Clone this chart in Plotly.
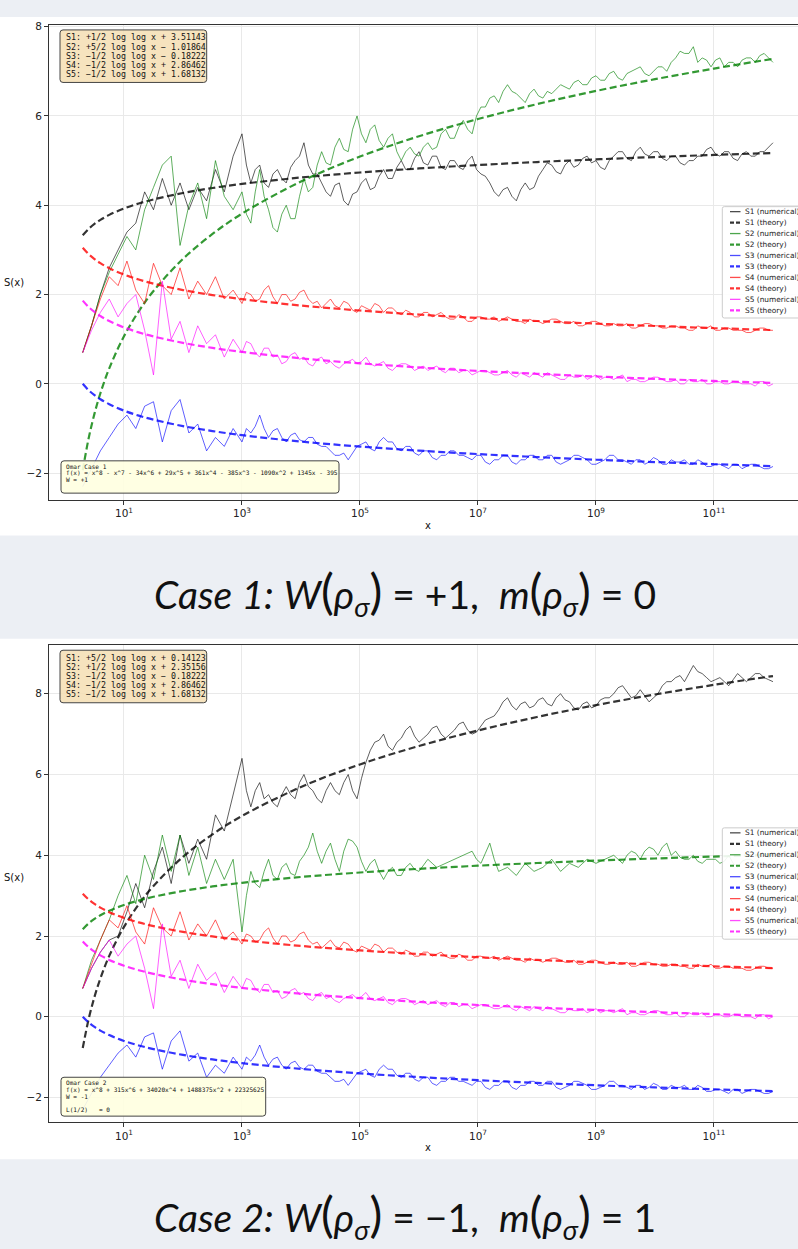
import plotly.graph_objects as go

W, H = 798, 1249

# ---------------- data ----------------
# coarse sampling grid (log10 x) of the numerical curves
L_num = [round(0.30 + 0.15 * i, 3) for i in range(79)]
# extra sample points (log10 x) between the coarse ones, for log10 x >= 3
L_mid = [round(3.075 + 0.15 * j, 3) for j in range(60)]
# sampling grid (log10 x) of the theory curves
L_th = [0.30103, 0.4, 0.5, 0.6, 0.75, 1, 1.25, 1.5, 2, 2.5, 3, 4, 5, 6, 7, 8, 9, 10, 11, 12]

series_names = ["S1", "S2", "S3", "S4", "S5"]

# theory curves (values of  a*log log x + b  read at L_th)
c1_S1_th = [3.328, 3.470, 3.582, 3.673, 3.785, 3.928, 4.040, 4.131, 4.275, 4.387,
            4.478, 4.622, 4.733, 4.824, 4.901, 4.968, 5.027, 5.080, 5.127, 5.171]
c1_S2_th = [-1.935, -1.224, -0.666, -0.211, 0.347, 1.066, 1.624, 2.080, 2.799, 3.357,
            3.813, 4.532, 5.090, 5.546, 5.931, 6.265, 6.560, 6.823, 7.061, 7.279]
S3_th = [0.001, -0.141, -0.253, -0.344, -0.455, -0.599, -0.711, -0.802, -0.946, -1.057,
         -1.149, -1.292, -1.404, -1.495, -1.572, -1.639, -1.698, -1.751, -1.798, -1.842]
S4_th = [3.048, 2.906, 2.794, 2.703, 2.591, 2.448, 2.336, 2.245, 2.101, 1.989,
         1.898, 1.754, 1.643, 1.552, 1.475, 1.408, 1.349, 1.296, 1.249, 1.205]
S5_th = [1.865, 1.722, 1.611, 1.520, 1.408, 1.264, 1.153, 1.062, 0.918, 0.806,
         0.715, 0.571, 0.460, 0.368, 0.291, 0.225, 0.166, 0.113, 0.065, 0.022]
c2_S1_th = [-0.775, -0.064, 0.493, 0.949, 1.507, 2.226, 2.784, 3.240, 3.959, 4.517,
            4.973, 5.692, 6.250, 6.706, 7.091, 7.425, 7.719, 7.983, 8.221, 8.439]
c2_S2_th = [2.168, 2.310, 2.422, 2.513, 2.625, 2.769, 2.880, 2.971, 3.115, 3.227,
            3.318, 3.462, 3.573, 3.664, 3.741, 3.808, 3.867, 3.920, 3.968, 4.011]

# numerical curves at L_num
c1_S1_num = [0.7, 1.3, 2.0, 2.6, 3.0, 3.4, 3.6, 4.3, 3.9, 4.6, 4.0, 4.5,
             3.9, 4.4, 4.1, 4.8, 4.3, 5.1, 5.6, 4.5, 4.9, 4.4, 4.8, 4.5,
             5.0, 5.4, 4.7, 4.5, 4.2, 4.5, 4.0, 4.3, 4.6, 4.4, 4.8, 4.6,
             5.0, 4.8, 5.2, 4.9, 5.1, 4.8, 5.0, 4.8, 5.1, 4.7, 4.5, 4.2,
             4.4, 4.1, 4.5, 4.4, 4.8, 4.9, 4.7, 5.0, 4.9, 5.1, 5.0, 4.8,
             5.1, 5.2, 5.0, 5.3, 5.1, 5.2, 5.0, 5.1, 4.9, 5.0, 5.1, 5.3,
             5.1, 5.2, 5.0, 5.2, 5.1, 5.2, 5.4]
c1_S2_num = [0.7, 1.3, 2.0, 2.5, 2.9, 3.3, 3.0, 3.9, 4.4, 4.9, 5.1, 3.1,
             4.0, 4.5, 3.7, 5.0, 4.2, 3.9, 4.3, 3.6, 4.8, 3.9, 3.4, 4.0,
             3.7, 4.6, 4.4, 5.2, 4.9, 5.5, 5.2, 6.0, 5.4, 5.8, 5.3, 5.6,
             5.0, 5.3, 5.1, 5.4, 5.3, 5.7, 5.5, 5.9, 5.6, 6.2, 6.4, 6.3,
             6.7, 6.5, 6.3, 6.6, 6.4, 6.5, 6.7, 6.6, 6.8, 6.7, 6.9, 6.8,
             7.0, 6.8, 7.0, 7.1, 6.9, 7.1, 7.0, 7.3, 7.4, 7.55, 7.3, 7.1,
             7.3, 7.2, 7.1, 7.3, 7.2, 7.4, 7.2]
S3_num = [-2.3, -1.9, -1.5, -1.2, -0.9, -0.7, -1.0, -0.5, -0.4, -1.3, -0.6, -0.35,
          -1.1, -0.9, -1.5, -1.2, -1.4, -1.0, -1.3, -1.1, -0.7, -1.2, -1.0, -1.3,
          -1.1, -1.3, -1.2, -1.4, -1.5, -1.6, -1.7, -1.4, -1.3, -1.5, -1.2, -1.3,
          -1.5, -1.4, -1.6, -1.5, -1.7, -1.6, -1.5, -1.6, -1.7, -1.6, -1.8, -1.7,
          -1.6, -1.8, -1.7, -1.6, -1.7, -1.6, -1.8, -1.7, -1.6, -1.7, -1.8, -1.7,
          -1.6, -1.7, -1.8, -1.7, -1.75, -1.7, -1.8, -1.75, -1.7, -1.8, -1.75, -1.85,
          -1.8, -1.9, -1.8, -1.85, -1.8, -1.9, -1.85]
S4_num = [0.7, 1.3, 1.9, 2.4, 2.2, 2.75, 2.1, 1.8, 2.7, 2.2, 2.0, 2.6,
          1.9, 2.3, 2.0, 2.4, 1.9, 2.1, 1.8, 2.0, 1.9, 2.2, 1.8, 2.0,
          1.9, 2.1, 1.8, 1.7, 1.9, 1.7, 1.8, 1.6, 1.7, 1.8, 1.6, 1.7,
          1.55, 1.6, 1.5, 1.6, 1.55, 1.5, 1.45, 1.5, 1.4, 1.5, 1.45, 1.4,
          1.5, 1.4, 1.35, 1.4, 1.35, 1.45, 1.4, 1.35, 1.3, 1.35, 1.4, 1.3,
          1.35, 1.3, 1.25, 1.3, 1.35, 1.3, 1.25, 1.3, 1.25, 1.2, 1.25, 1.3,
          1.2, 1.25, 1.2, 1.15, 1.2, 1.25, 1.2]
S5_num = [0.7, 1.2, 1.6, 1.9, 1.5, 1.8, 2.0, 1.2, 0.2, 2.3, 1.0, 1.4,
          0.7, 1.3, 0.9, 1.1, 0.6, 1.0, 0.7, 0.9, 0.6, 0.8, 0.65, 0.5,
          0.7, 0.6, 0.4, 0.6, 0.5, 0.35, 0.5, 0.45, 0.6, 0.4, 0.5, 0.3,
          0.45, 0.4, 0.35, 0.3, 0.4, 0.25, 0.35, 0.3, 0.2, 0.3, 0.25, 0.2,
          0.3, 0.15, 0.2, 0.25, 0.15, 0.2, 0.1, 0.2, 0.15, 0.1, 0.2, 0.15,
          0.1, 0.2, 0.1, 0.05, 0.1, 0.15, 0.05, 0.1, 0.0, 0.05, 0.1, 0.0,
          0.05, 0.0, 0.05, 0.0, -0.05, 0.05, 0.0]
c2_S1_num = [0.7, 1.2, 1.6, 1.9, 2.0, 2.6, 3.3, 2.7, 3.6, 4.2, 3.3, 4.5,
             3.8, 4.4, 3.9, 5.0, 4.6, 5.5, 6.4, 5.2, 5.8, 5.5, 5.2, 5.7,
             5.4, 6.0, 5.6, 5.3, 5.8, 5.5, 6.0, 5.4, 6.3, 6.8, 7.0, 6.6,
             6.9, 7.2, 6.8, 7.0, 7.2, 6.9, 7.1, 7.3, 7.0, 7.2, 7.4, 7.6,
             7.9, 7.6, 7.8, 7.7, 7.9, 7.7, 8.0, 7.8, 7.6, 7.8, 7.7, 7.9,
             8.0, 8.2, 7.9, 8.1, 7.8, 8.0, 8.3, 8.4, 8.3, 8.7, 8.5, 8.3,
             8.4, 8.2, 8.5, 8.3, 8.5, 8.4, 8.3]
c2_S2_num = [0.7, 1.4, 1.9, 2.4, 3.0, 3.5, 2.8, 4.0, 3.4, 4.5, 3.6, 4.5,
             3.5, 4.2, 3.3, 3.9, 3.4, 3.9, 2.1, 3.6, 3.2, 3.9, 3.4, 3.8,
             3.5, 4.0, 4.55, 3.8, 4.3, 3.6, 4.4, 4.2, 3.6, 3.9, 3.4, 3.7,
             3.5, 3.8, 3.6, 3.9, 3.7, 3.8, 3.9, 4.0, 4.1, 3.8, 4.3, 3.6,
             3.7, 3.5, 3.8, 3.6, 3.7, 3.9, 3.6, 3.8, 3.7, 3.9, 3.8, 3.9,
             4.0, 3.8, 4.1, 3.9, 4.2, 4.0, 4.3, 4.1, 3.9, 4.0, 3.8, 3.9,
             3.8, 4.0, 3.7, 3.9, 3.8, 4.0, 3.9]

# numerical curves at L_mid
c1_S1_mid = [4.9, 4.8, 4.5, 4.7, 4.6, 4.85, 5.1, 4.9, 4.7, 4.3, 4.45, 4.1, 4.25, 4.5, 4.35,
             4.65, 4.6, 4.85, 4.8, 5.05, 4.95, 5.1, 4.85, 5.0, 4.85, 5.0, 4.8, 4.65, 4.3, 4.35,
             4.2, 4.35, 4.35, 4.65, 4.95, 4.75, 4.9, 4.85, 5.05, 4.95, 4.85, 5.0, 5.2, 5.05, 5.2,
             5.15, 5.2, 5.05, 5.1, 4.95, 5.0, 5.1, 5.25, 5.15, 5.2, 5.05, 5.15, 5.1, 5.2, 5.3]
c1_S2_mid = [3.8, 4.3, 4.2, 3.5, 3.8, 3.7, 4.2, 4.3, 4.9, 4.95, 5.3, 5.25, 5.7, 5.6, 5.7,
             5.45, 5.5, 5.2, 5.2, 5.15, 5.3, 5.25, 5.6, 5.5, 5.75, 5.7, 6.0, 6.2, 6.45, 6.55,
             6.55, 6.4, 6.5, 6.45, 6.55, 6.6, 6.65, 6.75, 6.7, 6.85, 6.8, 6.95, 6.85, 6.95, 7.05,
             6.95, 7.0, 7.1, 7.2, 7.45, 7.4, 7.2, 7.25, 7.25, 7.1, 7.2, 7.25, 7.3, 7.35, 7.3]
S3_mid = [-1.0, -0.95, -1.0, -1.05, -1.2, -1.15, -1.25, -1.2, -1.35, -1.4, -1.6, -1.55, -1.55,
          -1.35, -1.45, -1.3, -1.3, -1.45, -1.4, -1.55, -1.5, -1.65, -1.6, -1.5, -1.6, -1.65,
          -1.6, -1.75, -1.7, -1.6, -1.75, -1.7, -1.6, -1.7, -1.6, -1.75, -1.75, -1.6, -1.65,
          -1.8, -1.75, -1.6, -1.7, -1.75, -1.7, -1.8, -1.65, -1.8, -1.7, -1.75, -1.8, -1.7,
          -1.85, -1.8, -1.85, -1.8, -1.9, -1.8, -1.85, -1.9]
S4_mid = [2.05, 1.85, 2.1, 1.95, 2.0, 1.85, 2.05, 1.9, 1.85, 1.8, 1.75, 1.85, 1.65, 1.75, 1.65,
          1.75, 1.7, 1.6, 1.65, 1.5, 1.6, 1.5, 1.6, 1.45, 1.55, 1.4, 1.5, 1.45, 1.5, 1.45,
          1.45, 1.4, 1.45, 1.4, 1.4, 1.45, 1.35, 1.4, 1.3, 1.4, 1.35, 1.3, 1.3, 1.35, 1.25,
          1.35, 1.3, 1.25, 1.3, 1.25, 1.2, 1.3, 1.25, 1.2, 1.25, 1.2, 1.2, 1.15, 1.25, 1.2]
S5_mid = [0.95, 0.7, 0.8, 0.6, 0.45, 0.65, 0.55, 0.45, 0.55, 0.45, 0.4, 0.45, 0.55, 0.5, 0.45,
          0.45, 0.35, 0.4, 0.45, 0.3, 0.4, 0.35, 0.3, 0.35, 0.25, 0.3, 0.25, 0.3, 0.2, 0.25,
          0.2, 0.25, 0.15, 0.2, 0.25, 0.15, 0.1, 0.15, 0.2, 0.15, 0.1, 0.15, 0.15, 0.05, 0.1,
          0.05, 0.15, 0.1, 0.05, 0.0, 0.1, 0.05, 0.0, 0.05, 0.0, 0.05, 0.0, 0.0, 0.05, -0.05]
c2_S1_mid = [5.6, 5.6, 5.4, 5.3, 5.5, 5.5, 5.8, 5.7, 5.4, 5.6, 5.6, 5.8, 5.6, 5.9, 6.6,
             6.85, 6.7, 6.8, 7.1, 6.95, 6.9, 7.15, 7.0, 7.0, 7.25, 7.1, 7.05, 7.35, 7.45, 7.8,
             7.7, 7.75, 7.65, 7.85, 7.75, 7.9, 7.85, 7.65, 7.75, 7.65, 7.85, 7.9, 8.15, 8.05, 7.95,
             7.95, 7.9, 8.2, 8.3, 8.45, 8.5, 8.55, 8.4, 8.35, 8.3, 8.35, 8.4, 8.4, 8.5, 8.35]
c2_S2_mid = [3.0, 3.3, 3.6, 3.5, 3.7, 3.55, 3.85, 4.2, 4.1, 4.1, 3.9, 4.1, 4.35, 3.85, 3.8,
             3.6, 3.6, 3.5, 3.7, 3.65, 3.75, 3.8, 3.75, 3.85, 3.95, 4.05, 3.9, 4.05, 3.9, 3.65,
             3.6, 3.65, 3.7, 3.65, 3.8, 3.75, 3.7, 3.75, 3.8, 3.85, 3.85, 3.95, 3.9, 4.0, 4.05,
             4.1, 4.15, 4.2, 4.0, 3.95, 3.9, 3.85, 3.9, 3.9, 3.85, 3.8, 3.85, 3.9, 3.95, 3.95]

case1_num = [(c1_S1_num, c1_S1_mid), (c1_S2_num, c1_S2_mid), (S3_num, S3_mid),
             (S4_num, S4_mid), (S5_num, S5_mid)]
case1_th = [c1_S1_th, c1_S2_th, S3_th, S4_th, S5_th]
case2_num = [(c2_S1_num, c2_S1_mid), (c2_S2_num, c2_S2_mid), (S3_num, S3_mid),
             (S4_num, S4_mid), (S5_num, S5_mid)]
case2_th = [c2_S1_th, c2_S2_th, S3_th, S4_th, S5_th]

eq_case1 = ["S1: +1/2 log log x + 3.51143", "S2: +5/2 log log x \u2212 1.01864",
            "S3: \u22121/2 log log x \u2212 0.18222", "S4: \u22121/2 log log x + 2.86462",
            "S5: \u22121/2 log log x + 1.68132"]
eq_case2 = ["S1: +5/2 log log x + 0.14123", "S2: +1/2 log log x + 2.35156",
            "S3: \u22121/2 log log x \u2212 0.18222", "S4: \u22121/2 log log x + 2.86462",
            "S5: \u22121/2 log log x + 1.68132"]
info_case1 = ["Omar Case 1",
              "f(x) = x^8 - x^7 - 34x^6 + 29x^5 + 361x^4 - 385x^3 - 1090x^2 + 1345x - 395",
              "W = +1"]
info_case2 = ["Omar Case 2",
              "f(x) = x^8 + 315x^6 + 34020x^4 + 1488375x^2 + 22325625",
              "W = -1", "", "L(1/2)   = 0"]
BIGP_L = "<span style='font-size:48px'>(</span>"
BIGP_R = "<span style='font-size:48px'>)</span>"
captions = [f"<i>Case 1:</i> <i>W</i>{BIGP_L}<i>\u03c1<sub>\u03c3</sub></i>{BIGP_R} = +1,  "
            f"<i>m</i>{BIGP_L}<i>\u03c1<sub>\u03c3</sub></i>{BIGP_R} = 0",
            f"<i>Case 2:</i> <i>W</i>{BIGP_L}<i>\u03c1<sub>\u03c3</sub></i>{BIGP_R} = \u22121,  "
            f"<i>m</i>{BIGP_L}<i>\u03c1<sub>\u03c3</sub></i>{BIGP_R} = 1"]
xtick_vals = [1e1, 1e3, 1e5, 1e7, 1e9, 1e11]
xtick_text = ["10<sup>1</sup>", "10<sup>3</sup>", "10<sup>5</sup>", "10<sup>7</sup>",
              "10<sup>9</sup>", "10<sup>11</sup>"]
ytick_vals = [-2, 0, 2, 4, 6, 8]

# ---------------- styling ----------------
num_cols = ["rgba(0,0,0,0.7)", "rgba(0,128,0,0.7)", "rgba(0,0,255,0.7)",
            "rgba(255,0,0,0.7)", "rgba(255,0,255,0.7)"]
th_cols = ["rgba(0,0,0,0.8)", "rgba(0,128,0,0.8)", "rgba(0,0,255,0.8)",
           "rgba(255,0,0,0.8)", "rgba(255,0,255,0.8)"]
DASH = "7px,3.5px"


def combine(base, mid):
    """Put the coarse samples and the in-between samples in x order."""
    xs, ys = list(L_num[:18]), list(base[:18])
    for j in range(len(mid)):
        xs += [L_num[18 + j], L_mid[j]]
        ys += [base[18 + j], mid[j]]
    xs.append(L_num[78])
    ys.append(base[78])
    return [10 ** v for v in xs], ys


x_th = [10 ** v for v in L_th]


def X(px):
    return px / W


def Y(py):
    return 1 - py / H


def rrect(x0, y0, x1, y1, r):
    a, b, c, d = X(x0), Y(y0), X(x1), Y(y1)
    rx, ry = r / W, r / H
    return (f"M{a+rx},{b} L{c-rx},{b} Q{c},{b} {c},{b-ry} L{c},{d+ry} Q{c},{d} {c-rx},{d} "
            f"L{a+rx},{d} Q{a},{d} {a},{d+ry} L{a},{b-ry} Q{a},{b} {a+rx},{b} Z")


fig = go.Figure()

panels = [
    dict(num=case1_num, th=case1_th, xa="x", ya="y", top=20.7, bot=497.3,
         yr=[-2.594, 8.045], eq=eq_case1, eqbox=(60, 26, 206.7, 78.7), eqy0=33.6,
         info=info_case1, infobox=(61, 458.3, 339, 490.7), infoy0=463.5,
         leg_top=203.3, ylab_y=279, xlab_y=523),
    dict(num=case2_num, th=case2_th, xa="x2", ya="y2", top=642.7, bot=1121.7,
         yr=[-2.610, 9.217], eq=eq_case2, eqbox=(60, 648.3, 206.7, 701), eqy0=655.8,
         info=info_case2, infobox=(61, 1076.7, 265.7, 1115.7), infoy0=1082.3,
         leg_top=826.5, ylab_y=876, xlab_y=1147),
]

for p in panels:
    for i, name in enumerate(series_names):
        xs, ys = combine(*p["num"][i])
        fig.add_trace(go.Scatter(x=xs, y=ys, mode="lines", xaxis=p["xa"], yaxis=p["ya"],
                                 line=dict(color=num_cols[i], width=0.9), showlegend=False,
                                 name=f"{name} (numerical)"))
        fig.add_trace(go.Scatter(x=x_th, y=p["th"][i], mode="lines", xaxis=p["xa"], yaxis=p["ya"],
                                 line=dict(color=th_cols[i], width=2.2, dash=DASH), showlegend=False,
                                 name=f"{name} (theory)", line_shape="spline"))

shapes = []
annotations = []
# white picture backgrounds
for (y0, y1) in [(13, 533.3), (636.7, 1159)]:
    shapes.append(dict(type="rect", xref="paper", yref="paper", x0=0, x1=1, y0=Y(y1), y1=Y(y0),
                       fillcolor="white", line=dict(width=0), layer="below"))

mono = "DejaVu Sans Mono"
sans = "DejaVu Sans"
for k, p in enumerate(panels):
    # equation box
    x0, y0, x1, y1 = p["eqbox"]
    shapes.append(dict(type="path", xref="paper", yref="paper", path=rrect(x0, y0, x1, y1, 3),
                       fillcolor="rgba(245,222,179,0.85)", line=dict(color="#444", width=1)))
    for j, t in enumerate(p["eq"]):
        annotations.append(dict(xref="paper", yref="paper", x=X(63.5), y=Y(p["eqy0"] + 9.05 * j),
                                text=t, showarrow=False, xanchor="left", yanchor="middle",
                                font=dict(family=mono, size=8.3, color="#111")))
    # info box
    x0, y0, x1, y1 = p["infobox"]
    shapes.append(dict(type="path", xref="paper", yref="paper", path=rrect(x0, y0, x1, y1, 3),
                       fillcolor="rgba(255,255,224,0.9)", line=dict(color="#444", width=1)))
    for j, t in enumerate(p["info"]):
        if t:
            annotations.append(dict(xref="paper", yref="paper", x=X(64), y=Y(p["infoy0"] + 6.8 * j),
                                    text=t, showarrow=False, xanchor="left", yanchor="middle",
                                    font=dict(family=mono, size=6.1, color="#111")))
    # legend (matplotlib style, clipped by right edge like the reference)
    lt = p["leg_top"]
    shapes.append(dict(type="path", xref="paper", yref="paper", path=rrect(722.3, lt, 830, lt + 111.7, 2),
                       fillcolor="rgba(255,255,255,0.9)", line=dict(color="#cccccc", width=1)))
    for i, name in enumerate(series_names):
        for s, lab in enumerate(["numerical", "theory"]):
            yy = lt + 5 + 11 * (2 * i + s)
            if s == 0:
                ln = dict(color=num_cols[i], width=1.3)
            else:
                ln = dict(color=th_cols[i], width=2.2, dash="4px,2px")
            shapes.append(dict(type="line", xref="paper", yref="paper", x0=X(730), x1=X(740.5),
                               y0=Y(yy), y1=Y(yy), line=ln))
            annotations.append(dict(xref="paper", yref="paper", x=X(743), y=Y(yy),
                                    text=f"{name} ({lab})", showarrow=False, xanchor="left",
                                    yanchor="middle", font=dict(family=sans, size=7.4, color="#222")))
    # axis titles
    annotations.append(dict(xref="paper", yref="paper", x=X(14), y=Y(p["ylab_y"]), text="S(x)",
                            showarrow=False, xanchor="center", yanchor="middle",
                            font=dict(family=sans, size=10, color="#111")))
    annotations.append(dict(xref="paper", yref="paper", x=X(428), y=Y(p["xlab_y"]), text="x",
                            showarrow=False, xanchor="center", yanchor="middle",
                            font=dict(family=sans, size=10, color="#111")))
    # caption
    cap_y = 590 if k == 0 else 1215
    annotations.append(dict(xref="paper", yref="paper", x=X(405), y=Y(cap_y), text=captions[k],
                            showarrow=False, xanchor="center", yanchor="middle",
                            font=dict(family="Lato", size=39, color="#111")))

axis_common = dict(showline=True, linecolor="#333", linewidth=1, ticks="outside", ticklen=4,
                   tickcolor="#333", showgrid=True, gridcolor="#e9e9e9", gridwidth=1,
                   zeroline=False, tickfont=dict(family=sans, size=10.5, color="#222"))
layout = dict(width=W, height=H, margin=dict(l=0, r=0, t=0, b=0),
              paper_bgcolor="#eceff4", plot_bgcolor="white", showlegend=False,
              shapes=shapes, annotations=annotations)
for p, xa, ya in [(panels[0], "xaxis", "yaxis"), (panels[1], "xaxis2", "yaxis2")]:
    layout[xa] = dict(axis_common, type="log", domain=[X(49), 1], range=[-0.271, 12.424],
                      tickvals=xtick_vals, ticktext=xtick_text, mirror=True,
                      anchor=p["ya"])
    layout[ya] = dict(axis_common, domain=[Y(p["bot"]), Y(p["top"])], range=p["yr"],
                      tickvals=ytick_vals, anchor=p["xa"], mirror=False)
fig.update_layout(**layout)
fig.write_html("out.html", config={"displayModeBar": False},
               post_script="document.body.style.margin='0';document.body.style.overflow='hidden';")
